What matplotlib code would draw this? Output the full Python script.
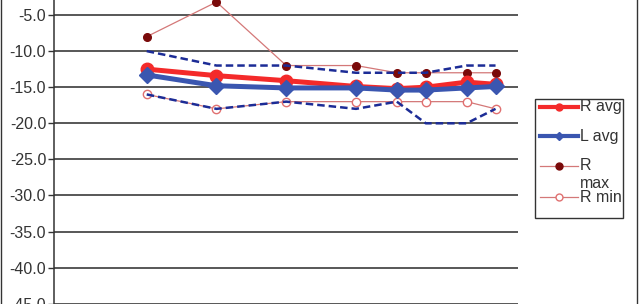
import matplotlib
matplotlib.use("Agg")
import matplotlib.pyplot as plt
from matplotlib.lines import Line2D
from matplotlib.patches import Rectangle
from matplotlib.ticker import FixedLocator, FormatStrFormatter

plt.rcParams['font.family'] = ['Liberation Sans', 'DejaVu Sans']

# frequencies (Hz) and levels
freqs = [250, 500, 1000, 2000, 3000, 4000, 6000, 8000]
r_avg = [-12.5, -13.4, -14.1, -14.9, -15.2, -15.0, -14.3, -14.6]
l_avg = [-13.3, -14.8, -15.1, -15.1, -15.4, -15.4, -15.1, -14.9]
r_max = [-8, -3.2, -12, -12, -13, -13, -13, -13]
r_min = [-16, -18, -17, -17, -17, -17, -17, -18]
l_max = [-10, -12, -12, -13, -13, -13, -12, -12]
l_min = [-16, -18, -17, -18, -17, -20, -20, -18]
y_ticks = [-5, -10, -15, -20, -25, -30, -35, -40, -45]

W, H = 644, 304
fig = plt.figure(figsize=(W / 100, H / 100), dpi=100)

# axes placed so that the chart is cropped like the reference
px_per_unit = 7.22
y_top = 15 - 5 * px_per_unit
y_bot = 15 + 45 * px_per_unit
ax = fig.add_axes([54.5 / W, 1 - y_bot / H, (518 - 54.5) / W, (y_bot - y_top) / H])
ax.set_xscale('log')
ax.set_xlim(100, 10000)
ax.set_ylim(-50, 0)

red = '#f42a2a'
blue = '#3a56b0'
navy = '#1c2c96'
rose = '#d47878'
dark_red = '#7a0a0a'

ax.plot(freqs, r_max, color=rose, lw=0.9, marker='o', ms=5.5,
        mfc=dark_red, mec=dark_red, zorder=3)
ax.plot(freqs, r_min, color=rose, lw=0.9, marker='o', ms=6,
        mfc='white', mec='#e07070', mew=1.0, zorder=3)
ax.plot(freqs, r_avg, color=red, lw=3.6, marker='o', ms=9,
        mfc=red, mec=red, zorder=4)
ax.plot(freqs, l_avg, color=blue, lw=3.6, marker='D', ms=8,
        mfc=blue, mec=blue, zorder=5)
ax.plot(freqs, l_max, color=navy, lw=1.8, ls=(0, (3, 1.6)), zorder=6)
ax.plot(freqs, l_min, color=navy, lw=1.8, ls=(0, (3, 1.6)), zorder=6)

ax.yaxis.set_major_locator(FixedLocator(y_ticks))
ax.yaxis.set_major_formatter(FormatStrFormatter('%.1f'))
ax.set_xticks([])
ax.xaxis.set_minor_locator(FixedLocator([]))
ax.grid(axis='y', color='#2a2a2a', lw=1.1)
ax.set_axisbelow(True)
ax.tick_params(axis='y', direction='out', length=4, width=1, color='#333333',
               labelsize=11.5, labelcolor='#333333', pad=2)
for s in ['top', 'right', 'bottom']:
    ax.spines[s].set_visible(False)
ax.spines['left'].set_color('#333333')
ax.spines['left'].set_linewidth(1.1)

# chart frame edges
fig.add_artist(Line2D([0.8 / W, 0.8 / W], [0, 1], color='#333333', lw=1.0,
                      transform=fig.transFigure))
fig.add_artist(Line2D([637 / W, 637 / W], [0, 1], color='#333333', lw=1.0,
                      transform=fig.transFigure))


# legend, drawn by hand to get the wrapped "R max" label
def fx(x):
    return x / W


def fy(y):
    return 1 - y / H


fig.add_artist(Rectangle((fx(535), fy(218)), fx(623) - fx(535), fy(99) - fy(218),
                         transform=fig.transFigure, fill=False,
                         edgecolor='#333333', lw=1.0))
entries = [
    (107, red, 3.0, dict(marker='o', ms=5, mfc=red, mec=red), 'R avg'),
    (136, blue, 3.0, dict(marker='D', ms=4.5, mfc=blue, mec=blue), 'L avg'),
    (166, rose, 0.9, dict(marker='o', ms=5, mfc=dark_red, mec=dark_red), 'R'),
    (197, rose, 0.9, dict(marker='o', ms=5, mfc='white', mec='#e07070'), 'R min'),
]
for y, color, lw, mstyle, label in entries:
    fig.add_artist(Line2D([fx(540), fx(578)], [fy(y), fy(y)], color=color, lw=lw,
                          transform=fig.transFigure))
    fig.add_artist(Line2D([fx(559)], [fy(y)], ls='none', transform=fig.transFigure,
                          **mstyle))
    fig.text(fx(580), fy(y), label, fontsize=11.5, color='#333333',
             ha='left', va='center')
fig.text(fx(580), fy(183), 'max', fontsize=11.5, color='#333333',
         ha='left', va='center')

fig.savefig('out.png', dpi=100)
